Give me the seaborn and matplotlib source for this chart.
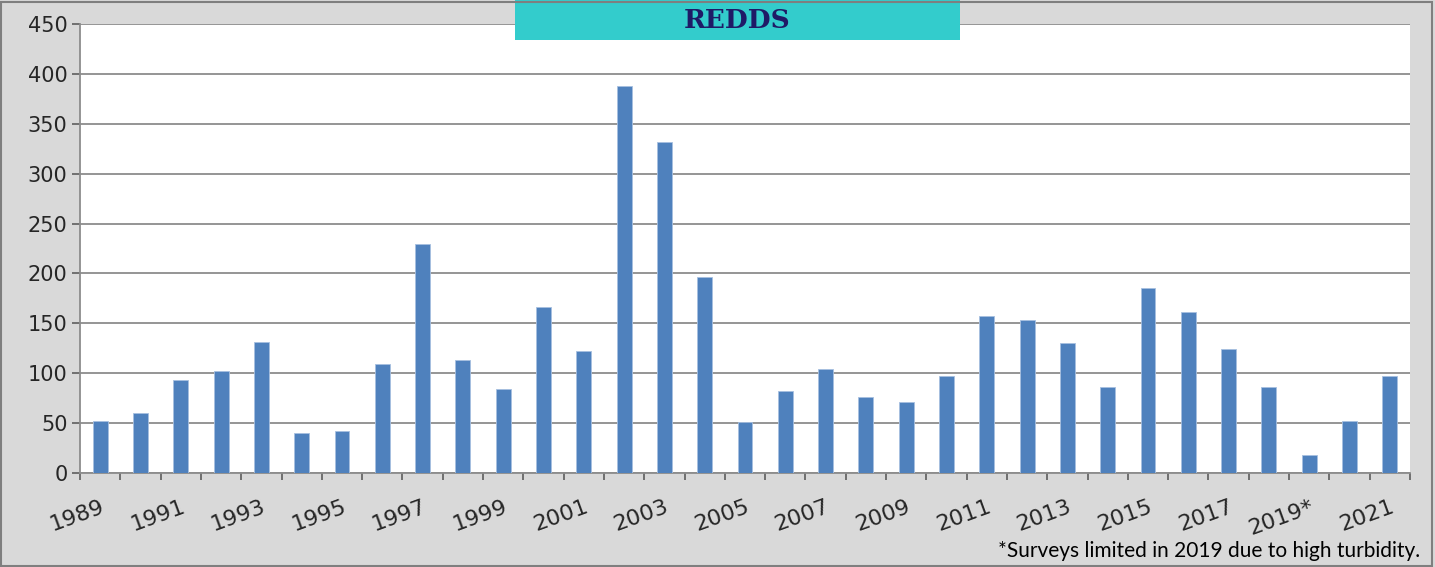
import matplotlib
matplotlib.use("Agg")
import matplotlib.pyplot as plt
import matplotlib.patches as mpatches
import seaborn as sns
import pandas as pd

# Redd counts by survey year
years = [str(y) for y in range(1989, 2022)]
redds = [52, 60, 93, 102, 131, 40, 42, 109, 230, 113, 84, 166, 122, 388, 332,
         196, 51, 82, 104, 76, 71, 97, 157, 153, 130, 86, 185, 161, 124, 86, 18, 52, 97]
tick_labels = ["1989", "1991", "1993", "1995", "1997", "1999", "2001", "2003", "2005",
               "2007", "2009", "2011", "2013", "2015", "2017", "2019*", "2021"]
footnote = "*Surveys limited in 2019 due to high turbidity."

df = pd.DataFrame({"year": years, "redds": redds})

sns.set_style("ticks")
plt.rcParams["font.family"] = ["DejaVu Sans"]

fig = plt.figure(figsize=(14.35, 5.67), dpi=100)
fig.patch.set_facecolor("#d9d9d9")
ax = fig.add_axes([80 / 1435, 94 / 567, 1330 / 1435, 449 / 567])
ax.set_facecolor("white")

sns.barplot(data=df, x="year", y="redds", color="#4f81bd", width=0.37,
            edgecolor="#a7c0e0", linewidth=0.6, saturation=1, ax=ax, zorder=3)

ax.set_ylim(0, 450)
ax.set_xlim(-0.5, len(years) - 0.5)
ax.set_yticks(range(0, 451, 50))
ax.yaxis.grid(True, color="#8c8c8c", linewidth=1.3)
ax.set_axisbelow(True)

# labels every other year, tick marks at category boundaries
ax.set_xticks(range(0, len(years), 2))
ax.set_xticklabels(tick_labels, rotation=20, ha="right", rotation_mode="anchor")
ax.set_xticks([i - 0.5 for i in range(len(years) + 1)], minor=True)
ax.tick_params(axis="x", which="major", bottom=True, length=0, labelsize=16, pad=17)
ax.tick_params(axis="x", which="minor", bottom=True, length=5, width=1.4,
               color="#707070", direction="out")
ax.tick_params(axis="y", which="major", left=True, length=6, width=1.4, color="#707070",
               direction="out", labelsize=15, pad=3)
ax.set_xlabel("")
ax.set_ylabel("")

for side in ["top", "right"]:
    ax.spines[side].set_visible(False)
for side in ["left", "bottom"]:
    ax.spines[side].set_color("#8c8c8c")
    ax.spines[side].set_linewidth(1.3)

# title box
fig.patches.append(mpatches.Rectangle((515 / 1435, 527 / 567), 445 / 1435, 40 / 567,
                                      transform=fig.transFigure, facecolor="#33cccc",
                                      edgecolor="none", zorder=5))
fig.text(737 / 1435, 546 / 567, "REDDS", ha="center", va="center", fontsize=19,
         fontweight="bold", family="DejaVu Serif", color="#1f1a66", zorder=6)

fig.text(1420 / 1435, 6 / 567, footnote, ha="right", va="bottom", fontsize=15,
         family="Lato", color="black")

# outer border
fig.patches.append(mpatches.Rectangle((0.001, 0.002), 0.997, 0.995, transform=fig.transFigure,
                                      facecolor="none", edgecolor="#7f7f7f", linewidth=1.5,
                                      zorder=10))

fig.savefig("out.png", dpi=100, facecolor=fig.get_facecolor())
